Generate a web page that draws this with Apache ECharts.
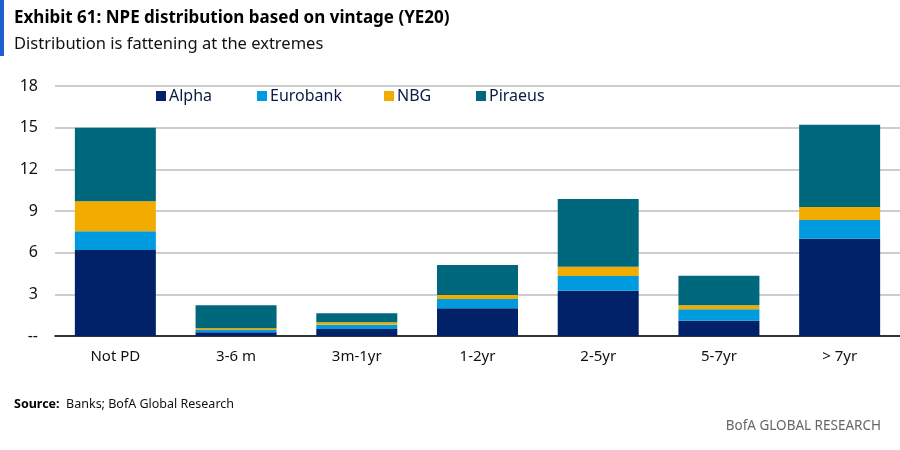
<!DOCTYPE html>
<html><head><meta charset="utf-8">
<script src="https://cdn.jsdelivr.net/npm/echarts@6/dist/echarts.min.js"></script>
<style>html,body{margin:0;padding:0;background:#fff}#c{width:900px;height:450px}</style>
</head><body><div id="c"></div>
<script>
const categories = ['Not PD', '3-6 m', '3m-1yr', '1-2yr', '2-5yr', '5-7yr', '> 7yr'];
const alpha    = [6.2, 0.27, 0.5, 2.0, 3.26, 1.1, 7.0];
const eurobank = [1.35, 0.16, 0.31, 0.67, 1.06, 0.82, 1.35];
const nbg      = [2.15, 0.12, 0.18, 0.29, 0.67, 0.29, 0.93];
const piraeus  = [5.3, 1.66, 0.64, 2.16, 4.87, 2.13, 5.93];
const seriesNames = ['Alpha', 'Eurobank', 'NBG', 'Piraeus'];
const colors = ['#012169', '#009ADE', '#F2AC00', '#00687C'];
const yTicks = [0, 3, 6, 9, 12, 15, 18];

const font = 'Noto Sans';
const chart = echarts.init(document.getElementById('c'));
const values = [alpha, eurobank, nbg, piraeus];
const legendLefts = [151, 252, 379, 471];
chart.setOption({
  animation: false,
  textStyle: {fontFamily: font},
  title: [
    {text: 'Exhibit 61: NPE distribution based on vintage (YE20)', left: 9, top: 5,
     textStyle: {fontSize: 17, fontWeight: 'bold', color: '#000', fontFamily: font}},
    {text: 'Distribution is fattening at the extremes', left: 9, top: 31,
     textStyle: {fontSize: 16.5, fontWeight: 'normal', color: '#111', fontFamily: font}},
    {text: '{b|Source:}  Banks; BofA Global Research', left: 9, top: 393,
     textStyle: {fontSize: 12.5, color: '#111', fontFamily: font, fontWeight: 'normal',
       rich: {b: {fontWeight: 'bold', fontSize: 12.5, color: '#000', fontFamily: font}}}},
    {text: 'BofA GLOBAL RESEARCH', right: 14, top: 414,
     textStyle: {fontSize: 13.5, color: '#666', fontWeight: 'normal', fontFamily: font}}
  ],
  graphic: [{type: 'rect', shape: {x: 0, y: 0, width: 4, height: 56}, style: {fill: '#1D5FD0'}}],
  legend: seriesNames.map((n, i) => ({
    data: [n], left: legendLefts[i], top: 83, itemWidth: 10, itemHeight: 10, itemGap: 4,
    icon: 'rect', textStyle: {fontSize: 16, color: '#0a1a40', fontFamily: font, padding: [0,0,0,-2]}
  })),
  grid: {left: 55, right: -6, top: 86, bottom: 114},
  xAxis: {
    type: 'category', data: categories,
    axisLine: {lineStyle: {color: '#000', width: 1.5}},
    axisTick: {show: false},
    axisLabel: {fontSize: 15, color: '#111', margin: 13, fontFamily: font}
  },
  yAxis: {
    type: 'value', min: 0, max: 18, interval: 3,
    axisLine: {show: false}, axisTick: {show: false},
    splitLine: {lineStyle: {color: '#bdbdbd', width: 1.5}},
    axisLabel: {fontSize: 16, color: '#111', margin: 17, fontFamily: font,
      formatter: v => (v === 0 ? '--' : String(v))}
  },
  series: seriesNames.map((n, i) => ({
    name: n, type: 'bar', stack: 'total', data: values[i], barWidth: 81,
    itemStyle: {color: colors[i]}
  }))
});
</script></body></html>
